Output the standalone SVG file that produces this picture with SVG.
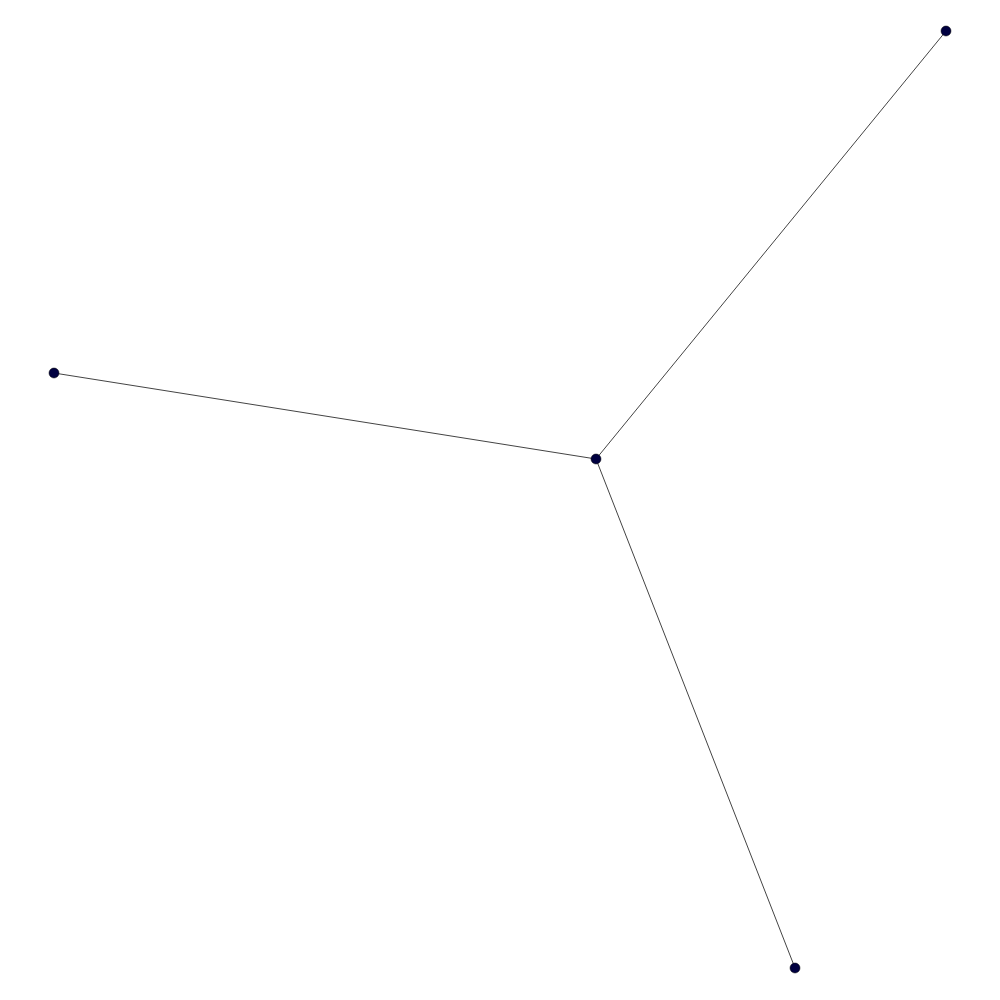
<svg xmlns="http://www.w3.org/2000/svg" width="1000" height="1000" viewBox="0 0 1000 1000">
<style>
.edge{stroke:#444;stroke-width:1;fill:none}
.node{fill:#000040;stroke:#000;stroke-width:0.5}
</style>
<rect width="1000" height="1000" fill="#fff"/>
<g id="edges">
<line class="edge" x1="596" y1="459" x2="946" y2="31"/>
<line class="edge" x1="596" y1="459" x2="54" y2="373"/>
<line class="edge" x1="596" y1="459" x2="795" y2="968"/>
</g>
<g id="n0"><circle class="node" cx="596" cy="459" r="5"/></g>
<g id="n1"><circle class="node" cx="946" cy="31" r="5"/></g>
<g id="n2"><circle class="node" cx="54" cy="373" r="5"/></g>
<g id="n3"><circle class="node" cx="795" cy="968" r="5"/></g>
</svg>
